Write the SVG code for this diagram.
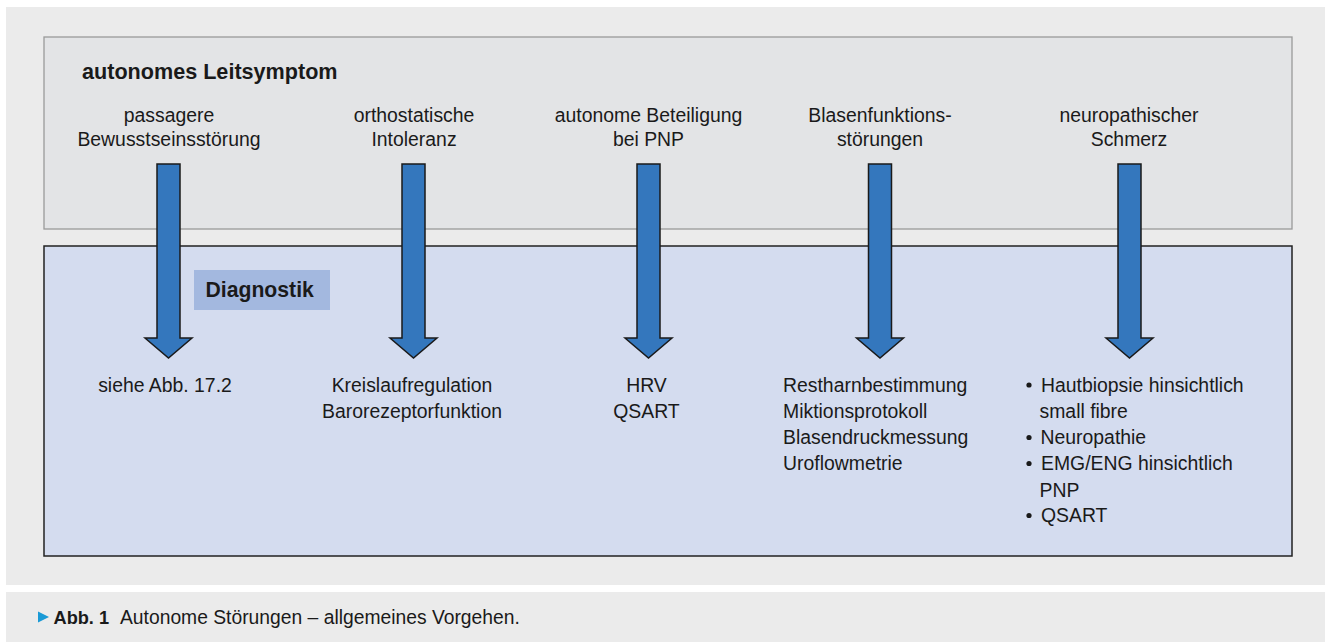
<svg xmlns="http://www.w3.org/2000/svg" width="1325" height="642" viewBox="0 0 1325 642">
<defs>
<style>
.t{font-family:"Liberation Sans",Arial,sans-serif;font-size:19.4px;fill:#1a1a1a}
.c{text-anchor:middle}
.b{font-weight:bold}
.arrow{fill:#3477bd;stroke:#1a1a1a;stroke-width:1.5;stroke-linejoin:miter}
</style>
<path id="arr" d="M-11.5,164 H11.5 V338 H23.5 L0,358 L-23.5,338 H-11.5 Z"/>
</defs>
<rect x="0" y="0" width="1325" height="642" fill="#ffffff"/>
<rect x="6" y="7" width="1319" height="578" fill="#ebebeb"/>
<rect x="6" y="592" width="1319" height="50" fill="#ebebeb"/>

<g id="symptom-box">
<rect x="44" y="37" width="1248" height="192" fill="#e3e4e6" stroke="#9a9a9a" stroke-width="1.3"/>
<text class="t b" x="82" y="78.5" style="font-size:21.6px">autonomes Leitsymptom</text>
</g>

<g id="diagnostik-box">
<rect x="44" y="246" width="1248" height="310" fill="#d4dcef" stroke="#222" stroke-width="1.5"/>
<rect x="194" y="270" width="136" height="40" fill="#a3b8df"/>
<text class="t b" x="205.5" y="296.5" style="font-size:21.2px">Diagnostik</text>
</g>

<g id="s1">
<text class="t c" x="169" y="121.7">passagere</text>
<text class="t c" x="169" y="145.7">Bewusstseinsstörung</text>
</g>
<g id="s2">
<text class="t c" x="414" y="121.7">orthostatische</text>
<text class="t c" x="414" y="145.7">Intoleranz</text>
</g>
<g id="s3">
<text class="t c" x="648.5" y="121.7">autonome Beteiligung</text>
<text class="t c" x="648.5" y="145.7">bei PNP</text>
</g>
<g id="s4">
<text class="t c" x="880" y="121.7">Blasenfunktions-</text>
<text class="t c" x="880" y="145.7">störungen</text>
</g>
<g id="s5">
<text class="t c" x="1129" y="121.7">neuropathischer</text>
<text class="t c" x="1129" y="145.7">Schmerz</text>
</g>

<g id="connectors">
<use href="#arr" class="arrow" x="168.5"/>
<use href="#arr" class="arrow" x="413.5"/>
<use href="#arr" class="arrow" x="648.5"/>
<use href="#arr" class="arrow" x="880"/>
<use href="#arr" class="arrow" x="1129.5"/>
</g>

<g id="d1">
<text class="t c" x="165" y="391.7">siehe Abb. 17.2</text>
</g>
<g id="d2">
<text class="t c" x="412" y="391.7">Kreislaufregulation</text>
<text class="t c" x="412" y="418">Barorezeptorfunktion</text>
</g>
<g id="d3">
<text class="t c" x="646.5" y="391.7">HRV</text>
<text class="t c" x="646.5" y="418">QSART</text>
</g>
<g id="d4">
<text class="t" x="783" y="391.7">Restharnbestimmung</text>
<text class="t" x="783" y="418">Miktionsprotokoll</text>
<text class="t" x="783" y="444">Blasendruckmessung</text>
<text class="t" x="783" y="470">Uroflowmetrie</text>
</g>
<g id="d5">
<circle cx="1029" cy="385" r="2.6" fill="#1a1a1a"/>
<text class="t" x="1041" y="391.7">Hautbiopsie hinsichtlich</text>
<text class="t" x="1039.5" y="418">small fibre</text>
<circle cx="1029" cy="437.5" r="2.6" fill="#1a1a1a"/>
<text class="t" x="1040.5" y="444">Neuropathie</text>
<circle cx="1029" cy="463.5" r="2.6" fill="#1a1a1a"/>
<text class="t" x="1041" y="470">EMG/ENG hinsichtlich</text>
<text class="t" x="1039.5" y="496.7">PNP</text>
<circle cx="1029" cy="515.5" r="2.6" fill="#1a1a1a"/>
<text class="t" x="1041" y="522">QSART</text>
</g>

<g id="caption">
<polygon points="38,611.5 49,617 38,622.5" fill="#1a9ad6"/>
<text class="t b" x="53.5" y="624" style="font-size:18.2px">Abb. 1</text>
<text class="t" x="120" y="624" style="font-size:19.3px">Autonome Störungen – allgemeines Vorgehen.</text>
</g>
</svg>
